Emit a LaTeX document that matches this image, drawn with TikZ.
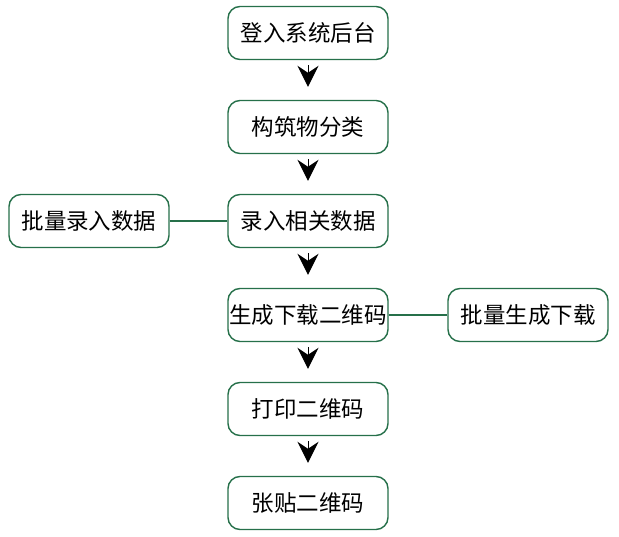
\documentclass[tikz,border=0pt]{standalone}
\usepackage{fontspec}
\setmainfont{Noto Sans CJK SC}
\usetikzlibrary{arrows.meta}

\definecolor{boxgreen}{RGB}{38,112,74}

\begin{document}
\begin{tikzpicture}
 [x=1pt, y=1pt,
  step node/.style={node distance=94pt, draw=boxgreen, line width=1.4pt, rounded corners=12pt,
    minimum width=160pt, minimum height=53pt, inner sep=0pt, fill=white,
    font=\fontsize{22.5}{26}\selectfont},
  side node/.style={step node, node distance=219pt},
  flow/.style={-{Stealth[length=21pt, width=21pt, inset=7pt]}, line width=1pt, black,
    shorten <=5pt, shorten >=13pt},
  link/.style={draw=boxgreen, line width=1.3pt}]

 \useasboundingbox (0,0) rectangle (619,-537);

 \node[step node] (1) at (308,-33) {登入系统后台};
 \node[step node] (2) [below of=1] {构筑物分类};
 \node[step node] (3) [below of=2] {录入相关数据};
 \node[step node] (4) [below of=3] {生成下载二维码};
 \node[step node] (5) [below of=4] {打印二维码};
 \node[step node] (6) [below of=5] {张贴二维码};

 \node[side node] (7) [left of=3] {批量录入数据};
 \node[side node] (8) [right of=4, node distance=220pt] {批量生成下载};

 \path
  (1) edge [flow] (2)
  (2) edge [flow] (3)
  (3) edge [flow] (4)
  (4) edge [flow] (5)
  (5) edge [flow] (6)

  (7) edge [link] (3)
  (4) edge [link] (8);

\end{tikzpicture}
\end{document}
